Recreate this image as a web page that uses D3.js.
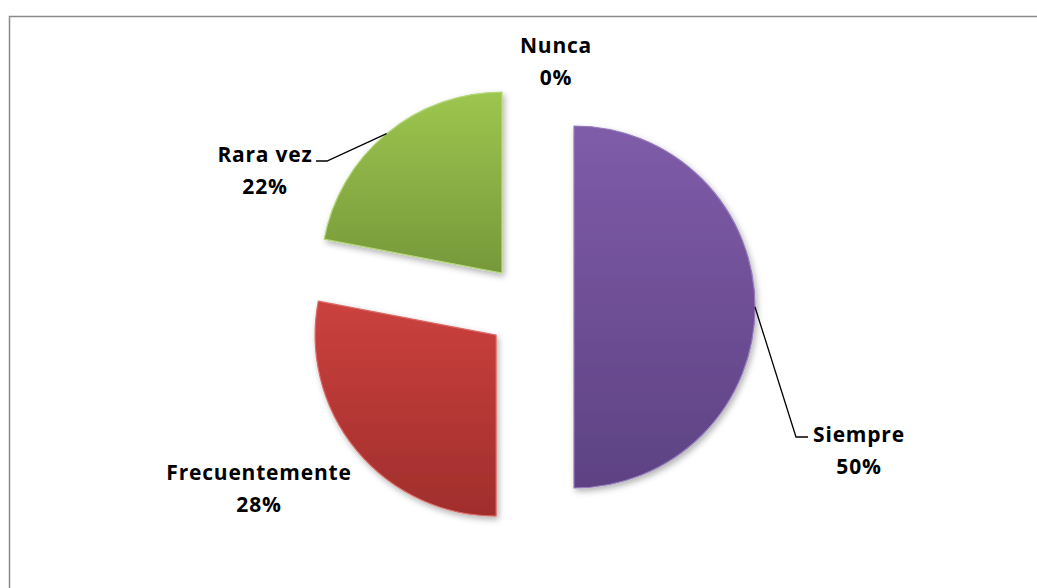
<!DOCTYPE html>
<html>
<head>
<meta charset="utf-8">
<script src="https://cdn.jsdelivr.net/npm/d3@7"></script>
<style>
  body { margin: 0; background: #fff; }
  svg { display: block; }
  .lbl { font-family: "Open Sans", Lato, sans-serif; font-weight: bold; font-size: 21px; letter-spacing: 0.8px; fill: #000; }
</style>
</head>
<body>
<div id="chart"></div>
<script>
//Chart data
var categories = ["Siempre", "Frecuentemente", "Rara vez", "Nunca"];
var values = [50, 28, 22, 0];
var percentLabels = ["50%", "28%", "22%", "0%"];

//Slice colours (top, bottom of the gradient)
var topColors = ["#7f5ca8", "#cb413e", "#9dc64f"];
var bottomColors = ["#5d4283", "#a02e2c", "#76983a"];
var edgeColors = ["#9479bd", "#db6a66", "#b3d676"];

var width = 1037, height = 588;
var cx = 530, cy = 307, radius = 181, explode = 44;

//Label centres, picked to sit where the original placed them
var labelPos = {
    "Siempre": [859, 442],
    "Frecuentemente": [259, 480],
    "Rara vez": [265, 162],
    "Nunca": [556, 53]
};
//Where leader lines bend before reaching a label (null = no leader)
var leaderEnd = {
    "Siempre": [[796, 437], [808, 437]],
    "Rara vez": [[327, 161], [316, 161]]
};

var svg = d3.select("#chart").append("svg")
    .attr("width", width)
    .attr("height", height);

var defs = svg.append("defs");

//Soft shadow under each slice
var shadow = defs.append("filter")
    .attr("id", "shadow")
    .attr("x", "-20%").attr("y", "-20%")
    .attr("width", "140%").attr("height", "140%");
shadow.append("feDropShadow")
    .attr("dx", 2).attr("dy", 3)
    .attr("stdDeviation", 3)
    .attr("flood-color", "#000")
    .attr("flood-opacity", 0.3);

topColors.forEach(function (c, i) {
    var g = defs.append("linearGradient")
        .attr("id", "grad" + i)
        .attr("x1", 0).attr("y1", 0)
        .attr("x2", 0).attr("y2", 1);
    g.append("stop").attr("offset", "0%").attr("stop-color", c);
    g.append("stop").attr("offset", "100%").attr("stop-color", bottomColors[i]);
});

//Chart area border (runs off the right and bottom of the picture)
svg.append("rect")
    .attr("x", 9.5).attr("y", 16.5)
    .attr("width", 1100).attr("height", 700)
    .attr("fill", "none")
    .attr("stroke", "#8a8a8a")
    .attr("stroke-width", 1.5);

var pie = d3.pie()
    .value(function (d) { return d; })
    .sort(null);

var arcs = pie(values);

var arc = d3.arc()
    .innerRadius(0)
    .outerRadius(radius);

//Offset each slice out along its middle angle
function offset(d) {
    var mid = (d.startAngle + d.endAngle) / 2;
    return [cx + explode * Math.sin(mid), cy - explode * Math.cos(mid)];
}

var slices = svg.append("g");

slices.selectAll("path")
    .data(arcs.filter(function (d) { return d.value > 0; }))
    .enter()
    .append("path")
    .attr("transform", function (d) {
        var o = offset(d);
        return "translate(" + o[0] + "," + o[1] + ")";
    })
    .attr("d", arc)
    .attr("fill", function (d) { return "url(#grad" + d.index + ")"; })
    .attr("stroke", function (d) { return edgeColors[d.index]; })
    .attr("stroke-width", 1.2)
    .attr("stroke-linejoin", "round")
    .attr("filter", "url(#shadow)");

//Leader lines from the slice edge to the label
arcs.forEach(function (d) {
    var bends = leaderEnd[categories[d.index]];
    if (!bends) return;
    var o = offset(d);
    var mid = (d.startAngle + d.endAngle) / 2;
    var start = [o[0] + radius * Math.sin(mid), o[1] - radius * Math.cos(mid)];
    svg.append("path")
        .attr("d", d3.line()([start].concat(bends)))
        .attr("fill", "none")
        .attr("stroke", "#000")
        .attr("stroke-width", 1.3);
});

//Category and percentage labels
var labels = svg.append("g");
arcs.forEach(function (d) {
    var name = categories[d.index];
    var p = labelPos[name];
    var t = labels.append("text")
        .attr("class", "lbl")
        .attr("text-anchor", "middle")
        .attr("x", p[0])
        .attr("y", p[1]);
    t.append("tspan").attr("x", p[0]).text(name);
    t.append("tspan").attr("x", p[0]).attr("dy", 32).text(percentLabels[d.index]);
});
</script>
</body>
</html>
